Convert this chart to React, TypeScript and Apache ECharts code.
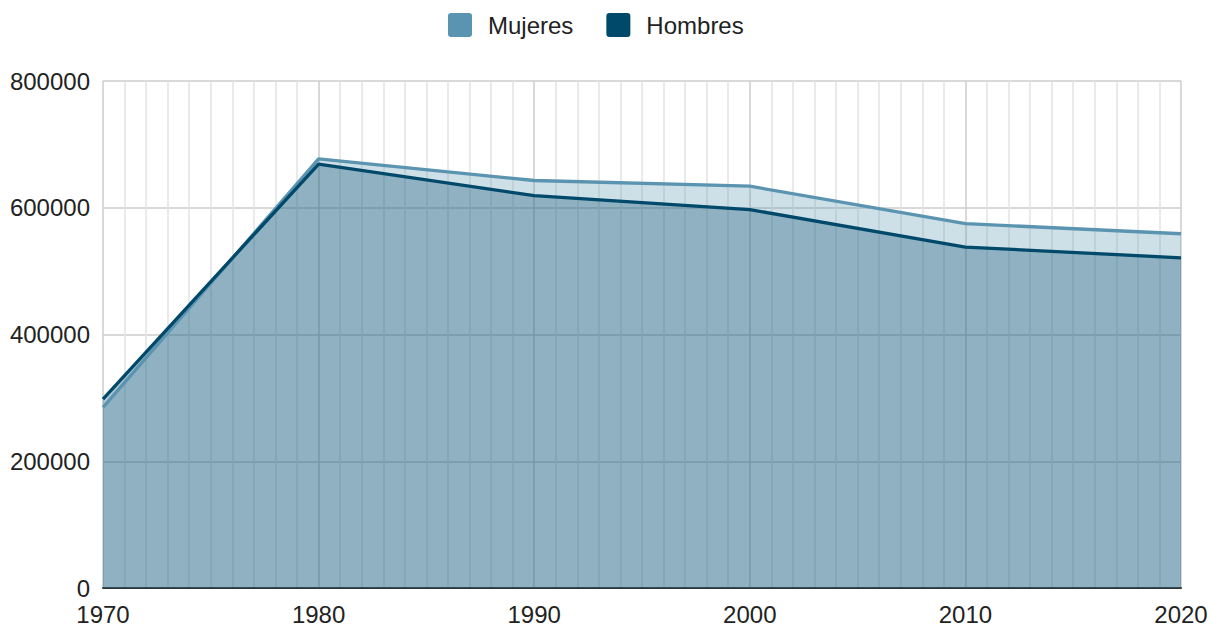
import React, { useEffect, useRef } from "react";
import * as echarts from "echarts";

const years = [1970, 1980, 1990, 2000, 2010, 2020];
const mujeres = [285000, 677000, 643000, 634000, 575000, 559000];
const hombres = [298000, 669000, 619000, 597000, 538000, 521000];
const seriesNames = ["Mujeres", "Hombres"];
const colors = ["#5b94b1", "#01496b"];

export default function App() {
  const ref = useRef<HTMLDivElement>(null);
  useEffect(() => {
    if (!ref.current) return;
    const chart = echarts.init(ref.current, null, { renderer: "svg" });
    const font = "'Liberation Sans', Arial, sans-serif";
    const mk = (name: string, data: number[], color: string) => ({
      name,
      type: "line",
      data: years.map((y, i) => [y, data[i]]),
      showSymbol: false,
      symbol: "none",
      lineStyle: { color, width: 3.3 },
      itemStyle: { color },
      areaStyle: { color, opacity: 0.3 },
    });
    chart.setOption({
      animation: false,
      legend: {
        top: 8,
        left: 443,
        icon: "path://M3,0L21,0Q24,0 24,3L24,21Q24,24 21,24L3,24Q0,24 0,21L0,3Q0,0 3,0Z",
        itemWidth: 24,
        itemHeight: 24,
        itemGap: 33,
        textStyle: { fontFamily: font, fontSize: 24, color: "#222", padding: [0, 0, 0, 11] },
        data: seriesNames,
      },
      grid: { left: 103, right: 30, top: 81, bottom: 38, containLabel: false },
      xAxis: {
        type: "value",
        min: 1970,
        max: 2020,
        interval: 10,
        axisLine: { show: true, lineStyle: { color: "#333", width: 2 } },
        axisTick: { show: false },
        axisLabel: { fontFamily: font, fontSize: 24, color: "#222", margin: 14, formatter: (v: number) => String(v) },
        splitLine: { show: true, lineStyle: { color: "#cccccc", width: 1.5 } },
        minorTick: { show: false, splitNumber: 10 },
        minorSplitLine: { show: true, lineStyle: { color: "#e3e3e3", width: 1.5 } },
      },
      yAxis: {
        type: "value",
        min: 0,
        max: 800000,
        interval: 200000,
        axisLine: { show: false },
        axisTick: { show: false },
        axisLabel: { fontFamily: font, fontSize: 24, color: "#222", margin: 13, formatter: (v: number) => String(v) },
        splitLine: { show: true, lineStyle: { color: "#cccccc", width: 1.5 } },
      },
      series: [mk(seriesNames[0], mujeres, colors[0]), mk(seriesNames[1], hombres, colors[1])],
    });
    return () => chart.dispose();
  }, []);
  return <div ref={ref} style={{ width: 1211, height: 626, position: "absolute", left: 0, top: 0 }} />;
}
